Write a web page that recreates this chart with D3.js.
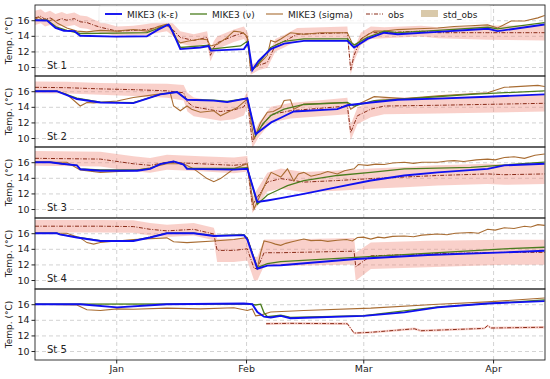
<!DOCTYPE html>
<html lang="en">
<head>
<meta charset="utf-8">
<script src="https://cdn.jsdelivr.net/npm/d3@7"></script>
<style>
    body { margin: 0; background: #fff; }
    svg { font-family: "DejaVu Sans", sans-serif; }
    .grid line { stroke: #c8c8c8; stroke-dasharray: 4,3; stroke-width: 0.8; }
    .grid path { display: none; }
</style>
</head>
<body>
<div id="chart"></div>
<script>
// days counted from 1 Jan (negative = December), temperatures in degC
var monthTicks = ["Jan", "Feb", "Mar", "Apr"];
var yTicks = [10, 12, 14, 16];
var stationNames = ["St 1", "St 2", "St 3", "St 4", "St 5"];
var seriesNames = ["MIKE3 (k-\u03b5)", "MIKE3 (\u03bd)", "MIKE3 (sigma)", "obs", "std_obs"];

// ---- St 1
var st1K = [[-19.4,16.0],[-16.5,15.95],[-14.5,15.0],[-12.5,14.65],[-10,14.6],[-8.6,14.0],[0,13.9],[7.3,13.95],[10,14.8],[12.5,15.45],[13.5,14.5],[15.3,12.3],[20.1,12.5],[22.1,12.7],[22.6,12.1],[30.5,12.3],[31.5,13.1],[32.5,9.6],[34,10.8],[36.9,12.3],[40.1,13.0],[44.8,13.35],[55.2,13.35],[56.8,12.5],[60,13.6],[64,14.4],[67.2,14.2],[76.8,14.5],[88.8,14.9],[91.1,14.6],[102.3,15.45]];
var st1Nu = [[-19.4,16.0],[-16.5,16.0],[-14.2,15.1],[-11.8,14.7],[-8.6,14.3],[0,14.35],[7.3,14.4],[12.5,15.45],[13.5,14.6],[15.3,12.5],[20.1,12.7],[22.1,12.8],[22.6,12.3],[29.7,12.7],[31.3,13.3],[32.5,9.6],[34,10.5],[36.9,12.5],[40.1,13.3],[44.8,13.6],[55.2,13.6],[56.8,12.8],[60,13.8],[64,14.6],[67.2,14.4],[76.8,14.7],[88.8,15.1],[91.1,14.9],[102.3,15.7]];
var st1Sig = [[-19.4,16.1],[-18.5,16.4],[-17.5,16.0],[-17,16.2],[-16,15.9],[-15.2,16.1],[-14,15.6],[-11.8,15.0],[-9.4,14.6],[-7,14.5],[-3.8,14.7],[0,14.6],[4.1,14.8],[7.3,14.6],[10,15.2],[12.1,15.5],[12.9,15.3],[13.7,14.0],[15.3,13.1],[17,13.3],[20.1,13.6],[21.7,13.5],[22.5,12.7],[24.1,12.9],[26.5,13.8],[28.1,14.6],[29.7,14.5],[30.5,14.3],[31.3,13.9],[32.1,9.6],[33.7,10.2],[36.1,11.5],[36.9,13.4],[38,13.2],[39.3,13.6],[41.6,14.4],[44.8,14.2],[48.8,14.4],[55.2,14.4],[56.4,13.0],[57.2,12.8],[59,13.8],[61.6,14.6],[64,14.6],[67.2,14.8],[72,14.9],[76.8,15.0],[80.7,15.2],[84.7,15.3],[88.7,15.4],[91.1,15.0],[94.3,15.9],[97.5,15.9],[100.7,16.3],[102.3,16.6]];
var st1Obs = [[-19.4,16.3,0.9],[-18,16.5,0.9],[-17,16.1,0.9],[-15.8,16.3,0.9],[-14.5,15.9,0.9],[-13,16.2,0.85],[-11.8,16.0,0.8],[-10,16.2,0.8],[-8.6,15.8,0.8],[-7,15.7,0.8],[-5,15.3,0.7],[-3.8,15.1,0.7],[0.2,14.6,0.6],[4.1,14.7,0.6],[7.3,14.8,0.7],[10,15.1,0.7],[12.1,15.3,0.7],[13.5,14.8,0.8],[15.3,13.8,0.8],[18.5,13.4,0.8],[21.7,13.8,0.8],[22.5,11.5,0.8],[23.3,12.5,0.8],[24.1,13.1,0.8],[28.1,14.0,0.8],[30.5,14.4,0.8],[31.5,13.5,0.8],[32.1,9.6,0.6],[34,10.2,0.6],[36.1,10.6,0.7],[38,12.8,0.8],[40.1,13.3,0.8],[43.2,14.2,0.8],[55.2,14.4,0.8],[56.0,9.6,0.6],[56.8,11.5,0.8],[58.4,13.6,0.8],[60.8,14.4,0.8],[64,14.4,0.7],[72.8,14.6,0.7],[76.8,14.4,0.7],[88.7,14.4,0.9],[102.3,14.4,1.0]];

// ---- St 2
var st2K = [[-19.4,16.0],[-14.2,16.0],[-9.4,15.0],[-3.8,14.55],[4.1,14.47],[10.5,15.6],[14.5,15.9],[16.9,14.9],[23.3,14.8],[26.5,14.6],[31.3,15.1],[33.3,10.5],[35,11.2],[37,12.0],[39.3,12.6],[42.4,13.4],[52.8,13.7],[55.2,14.2],[60.8,14.55],[67.2,14.9],[76.8,15.05],[88.7,15.3],[102.3,15.6]];
var st2Nu = [[-19.4,16.0],[-14.2,16.0],[-9.4,15.1],[-3.8,14.6],[4.1,14.55],[10.5,15.6],[14.5,15.9],[16.9,14.95],[23.3,14.85],[26.5,14.7],[31.3,15.1],[33.3,10.3],[35,11.8],[37,12.9],[40.1,13.7],[44.8,14.3],[55.2,14.55],[56.8,14.1],[61.6,14.8],[68.8,15.0],[84.7,15.6],[102.3,16.05]];
var st2Sig = [[-19.4,16.0],[-14.2,16.0],[-11.8,15.6],[-8.6,14.1],[-7,14.55],[-5.4,14.5],[0.2,14.75],[4.1,15.2],[9.7,15.6],[12.9,15.8],[13.7,14.1],[15.3,13.5],[16.9,14.1],[18,13.7],[20.1,13.3],[23.3,13.5],[24.9,12.85],[28.9,13.9],[31.3,15.0],[32.9,9.9],[34.5,12.0],[36.1,13.3],[37.5,13.4],[39.3,13.9],[40.1,14.8],[41.6,14.9],[42.4,13.7],[44.8,14.35],[55.2,14.55],[56,13.7],[58.4,14.5],[61.6,15.3],[68.8,15.05],[76.8,15.4],[88.7,15.8],[92.7,16.5],[100.7,16.75],[102.3,16.6]];
var st2Obs = [[-19.4,16.5,0.75],[-11.8,16.45,0.75],[-3.8,16.3,0.75],[4.1,16.2,0.8],[12.1,16.05,0.9],[16.1,15.8,1.0],[17,14.6,1.2],[18.5,14.0,1.2],[21.7,13.7,1.2],[24.9,13.4,1.2],[28.1,13.6,1.2],[30.5,14.0,1.1],[31.3,15.0,1.0],[32.5,9.5,0.8],[34,11.0,0.9],[36.9,13.0,1.0],[41.6,13.5,1.0],[55.2,14.1,1.05],[56,10.7,1.0],[57.6,12.85,1.05],[60.8,13.7,1.05],[64,14.1,1.05],[76.8,14.2,1.05],[102.3,14.45,1.05]];

// ---- St 3
var st3K = [[-19.4,16.0],[-15.8,16.0],[-13,15.8],[-9.4,15.6],[-8.6,15.1],[-3.8,14.9],[5,14.9],[8.1,15.15],[10.5,15.75],[13.7,16.1],[16.1,15.7],[16.9,15.15],[28.1,15.05],[31.3,15.15],[33.7,10.9],[36.1,11.1],[39.3,11.4],[44.8,11.95],[52.8,12.8],[60.8,13.65],[68.8,14.3],[76.8,14.7],[88.7,15.15],[92.7,15.6],[102.3,15.8]];
var st3Nu = [[-19.4,16.0],[-15.8,16.0],[-13,15.8],[-9.4,15.6],[-8.6,15.15],[-3.8,15.0],[5,15.0],[8.1,15.2],[10.5,15.75],[13.7,16.1],[16.1,15.7],[16.9,15.2],[28.1,15.2],[31.3,15.3],[33.7,10.6],[36.1,11.8],[39.3,12.6],[40.9,13.0],[44.8,13.65],[52.8,14.3],[60.8,14.7],[68.8,15.15],[84.7,15.35],[102.3,16.0]];
var st3Sig = [[-19.4,16.0],[-11.8,16.0],[-8.6,15.0],[-3.8,14.7],[4.1,14.9],[8.1,15.3],[12.1,15.8],[16.1,15.8],[18.5,15.15],[21.7,13.9],[23.3,13.5],[24.9,13.9],[28.1,15.15],[31.3,15.8],[32.9,10.0],[35,12.5],[36.1,13.8],[37,14.7],[39.3,14.1],[40.9,15.15],[42.4,13.6],[43.5,14.5],[44.8,14.7],[46.5,14.2],[48.8,14.5],[50.5,14.8],[52.8,14.5],[54.5,14.9],[56.8,15.15],[57.8,15.7],[60,15.6],[62,15.75],[64,15.7],[66,15.9],[68.8,16.0],[71,15.85],[73,16.0],[76.8,16.0],[79,16.15],[80.7,16.2],[83,16.1],[86,16.3],[88.7,16.4],[90.5,16.3],[92.7,16.6],[95,16.7],[97.5,16.5],[100,16.9],[102.3,17.05]];
var st3Obs = [[-19.4,16.5,0.95],[-3.8,16.4,0.95],[4.1,15.8,0.95],[8.1,15.6,0.95],[12.1,16.0,0.95],[20.1,15.8,0.95],[28.1,15.6,1.0],[31.3,15.8,1.0],[32.5,10.5,1.0],[36.1,13.45,1.2],[39.3,13.9,1.3],[44.8,13.45,1.3],[52.8,13.65,1.3],[60.8,13.9,1.3],[68.8,14.1,1.3],[76.8,14.3,1.3],[88.7,14.5,1.3],[92.7,14.4,1.3],[102.3,14.5,1.3]];

// ---- St 4
var st4K = [[-19.4,16.0],[-14.2,16.0],[-13.5,15.85],[-9.4,15.45],[-3.8,15.0],[4.1,15.0],[8.1,15.45],[12.1,16.0],[18.5,16.0],[23.3,15.65],[30.5,15.75],[31.3,15.2],[33.7,11.45],[36.1,11.85],[39.3,11.9],[57.2,12.7],[74.4,13.2],[92.7,13.55],[102.3,13.75]];
var st4Nu = [[-19.4,16.0],[-14.2,16.0],[-13.5,15.85],[-9.4,15.5],[-3.8,15.05],[4.1,15.05],[8.1,15.5],[12.1,16.0],[18.5,16.0],[23.3,15.7],[30.5,15.8],[31.3,15.3],[33.7,11.6],[36.1,12.1],[39.3,12.35],[57.2,12.9],[92.7,14.0],[102.3,14.2]];
var st4Sig = [[-19.4,16.0],[-11.8,16.0],[-8.6,15.4],[-7,14.8],[-5.4,14.6],[-3.8,14.8],[4.1,15.2],[12.1,15.4],[13.7,14.9],[16.9,14.8],[23.3,15.0],[28.1,15.2],[31.3,15.45],[33.7,11.5],[34.5,13.5],[35.3,15.0],[36.9,14.8],[38,14.6],[39.3,14.45],[40.5,14.7],[42,14.9],[43.5,15.1],[44.8,15.25],[46.5,15.05],[48.8,15.1],[50.5,14.95],[52.8,15.1],[55,15.2],[56.4,15.0],[57.6,15.45],[59,15.5],[60.8,15.25],[62.5,15.5],[64,15.4],[66,15.6],[68.8,15.65],[71,15.55],[73,15.75],[76.8,15.9],[79,15.8],[81,16.0],[84.7,16.1],[86.5,16.0],[88.7,16.5],[90.5,16.4],[92.7,16.7],[95,16.6],[97.5,16.9],[99,16.8],[100.7,17.1],[102.3,17.0]];
var st4Obs = [[-19.4,16.9,0.8],[-3.8,16.9,0.8],[4.1,16.85,0.8],[8.1,16.5,0.8],[12.1,16.3,0.8],[18.5,16.5,0.8],[23.3,15.9,0.8],[24.1,13.8,1.5],[28.1,13.8,1.5],[31.3,14.0,1.5],[32.9,11.5,1.5],[33.7,11.45,1.5],[35.3,13.5,1.7],[39.3,13.5,1.7],[56.8,13.7,1.7],[57.2,11.7,1.8],[60.8,13.1,1.7],[74.4,13.35,1.7],[92.7,13.55,1.6],[102.3,13.55,1.6]];

// ---- St 5
var st5K = [[-19.4,16.0],[-8.6,16.0],[0.2,15.6],[12.1,16.0],[30.5,16.1],[32.5,16.0],[33.7,15.0],[35.3,14.4],[36.9,14.3],[39.3,14.5],[41.6,14.2],[59.2,14.5],[68.8,14.95],[76.8,15.6],[88.7,16.1],[102.3,16.4]];
var st5Nu = [[-19.4,16.0],[28.1,16.05],[32.1,16.0],[33.3,15.9],[34.5,16.0],[35.3,14.9],[36.1,14.4],[39.3,14.6],[41.6,14.3],[59.2,14.55],[76.8,15.65],[102.3,16.55]];
var st5Sig = [[-19.4,16.0],[-9.4,15.9],[-7,15.3],[-3.8,15.2],[0.2,15.4],[4.1,15.35],[12.1,15.5],[20.1,15.4],[28.1,15.55],[31.3,15.2],[32.5,15.4],[33.3,14.5],[34.5,14.6],[36.9,15.0],[44.8,15.2],[60.8,15.5],[76.8,16.0],[88.7,16.3],[102.3,16.8]];
var st5Obs = [[35.8,13.5,0.15],[41.6,13.55,0.15],[55.2,13.5,0.15],[56.8,12.3,0.15],[60.8,12.4,0.15],[71.2,12.85,0.15],[72.8,12.6,0.15],[87.9,12.9,0.15],[88.7,13.25,0.15],[89.5,12.95,0.15],[102.3,13.05,0.15]];

var stations = [
    { name: stationNames[0], k: st1K, nu: st1Nu, sig: st1Sig, obs: st1Obs },
    { name: stationNames[1], k: st2K, nu: st2Nu, sig: st2Sig, obs: st2Obs },
    { name: stationNames[2], k: st3K, nu: st3Nu, sig: st3Sig, obs: st3Obs },
    { name: stationNames[3], k: st4K, nu: st4Nu, sig: st4Sig, obs: st4Obs },
    { name: stationNames[4], k: st5K, nu: st5Nu, sig: st5Sig, obs: st5Obs }];

var colors = { k: "#1010f0", nu: "#4b7d1e", sig: "#a86c32", obs: "#8a2c18", band: "#f08474", patch: "#d9c9aa" };

var w = 550, h = 379;
var padL = 35, padR = 545, padT = 5, panelH = 71;

function toDate(d) { return new Date(Date.UTC(2017, 0, 1) + d * 86400000); }

var x = d3.scaleUtc()
    .domain([toDate(-19.4), toDate(102.4)])
    .range([padL, padR]);

var svg = d3.select("#chart")
    .append("svg")
    .attr("width", w)
    .attr("height", h);

stations.forEach(function(st, i) {
    var y0 = padT + i * panelH;
    var y = d3.scaleLinear().domain([8.85, 17.95]).range([y0 + panelH, y0]);
    var g = svg.append("g");

    // clip
    var clipId = "clip" + i;
    svg.append("clipPath").attr("id", clipId)
        .append("rect").attr("x", padL).attr("y", y0).attr("width", padR - padL).attr("height", panelH);

    // grid
    g.append("g").attr("class", "grid")
        .attr("transform", "translate(" + padL + ",0)")
        .call(d3.axisLeft(y).tickValues(yTicks).tickSize(-(padR - padL)).tickFormat(""));
    g.append("g").attr("class", "grid")
        .attr("transform", "translate(0," + (y0 + panelH) + ")")
        .call(d3.axisBottom(x).ticks(d3.utcMonth.every(1)).tickSize(-panelH).tickFormat(""));

    var plot = g.append("g").attr("clip-path", "url(#" + clipId + ")");

    // std band
    var area = d3.area()
        .x(function(d) { return x(toDate(d[0])); })
        .y0(function(d) { return y(d[1] - d[2]); })
        .y1(function(d) { return y(d[1] + d[2]); });
    plot.append("path").datum(st.obs)
        .attr("d", area)
        .attr("fill", colors.band)
        .attr("fill-opacity", 0.38);

    var line = d3.line()
        .x(function(d) { return x(toDate(d[0])); })
        .y(function(d) { return y(d[1]); });

    plot.append("path").datum(st.obs).attr("d", line)
        .attr("fill", "none").attr("stroke", colors.obs).attr("stroke-width", 1)
        .attr("stroke-dasharray", "4,1.5,1,1.5");
    plot.append("path").datum(st.sig).attr("d", line)
        .attr("fill", "none").attr("stroke", colors.sig).attr("stroke-width", 1.1);
    plot.append("path").datum(st.nu).attr("d", line)
        .attr("fill", "none").attr("stroke", colors.nu).attr("stroke-width", 1.3);
    plot.append("path").datum(st.k).attr("d", line)
        .attr("fill", "none").attr("stroke", colors.k).attr("stroke-width", 1.9);

    // frame
    g.append("rect")
        .attr("x", padL).attr("y", y0)
        .attr("width", padR - padL).attr("height", panelH)
        .attr("fill", "none").attr("stroke", "#222").attr("stroke-width", 0.9);

    // y axis
    var ya = g.append("g")
        .attr("transform", "translate(" + padL + ",0)")
        .call(d3.axisLeft(y).tickValues(yTicks).tickSize(3.5).tickPadding(2));
    ya.select(".domain").remove();
    ya.selectAll("text").attr("font-size", 9.5).attr("fill", "#222").attr("font-family", "DejaVu Sans");
    ya.selectAll("line").attr("stroke", "#222");

    g.append("text")
        .attr("transform", "translate(12," + (y0 + panelH / 2) + ") rotate(-90)")
        .attr("text-anchor", "middle")
        .attr("font-size", 9)
        .attr("fill", "#222")
        .text("Temp. (\u00b0C)");

    g.append("text")
        .attr("x", 47).attr("y", y0 + 64)
        .attr("font-size", 10)
        .attr("fill", "#222")
        .text(st.name);
});

// bottom axis
var xa = svg.append("g")
    .attr("transform", "translate(0," + (padT + 5 * panelH) + ")")
    .call(d3.axisBottom(x).ticks(d3.utcMonth.every(1)).tickSize(3.5).tickPadding(2)
        .tickFormat(function(d, i) { return monthTicks[i]; }));
xa.select(".domain").remove();
xa.selectAll("text").attr("font-size", 9.5).attr("fill", "#222").attr("font-family", "DejaVu Sans");
xa.selectAll("line").attr("stroke", "#222");

// legend
var legend = svg.append("g");
legend.append("rect")
    .attr("x", 99).attr("y", 6).attr("width", 392).attr("height", 17)
    .attr("rx", 2)
    .attr("fill", "#fff").attr("fill-opacity", 0.8)
    .attr("stroke", "#e4e4e4").attr("stroke-width", 0.6);

var legendItems = [
    { x: 105, label: seriesNames[0], color: colors.k, width: 1.9, dash: null },
    { x: 190, label: seriesNames[1], color: colors.nu, width: 1.3, dash: null },
    { x: 266, label: seriesNames[2], color: colors.sig, width: 1.1, dash: null },
    { x: 366, label: seriesNames[3], color: colors.obs, width: 1, dash: "4,1.5,1,1.5" },
    { x: 421, label: seriesNames[4], color: colors.patch, width: 0, dash: null }];

legendItems.forEach(function(d, i) {
    if (i === 4) {
        legend.append("rect").attr("x", d.x).attr("y", 10).attr("width", 17).attr("height", 7)
            .attr("fill", d.color);
    } else {
        legend.append("line").attr("x1", d.x).attr("x2", d.x + 17).attr("y1", 14).attr("y2", 14)
            .attr("stroke", d.color).attr("stroke-width", d.width)
            .attr("stroke-dasharray", d.dash);
    }
    legend.append("text").attr("x", d.x + 22).attr("y", 17.5)
        .attr("font-size", 9).attr("fill", "#222").text(d.label);
});
</script>
</body>
</html>
